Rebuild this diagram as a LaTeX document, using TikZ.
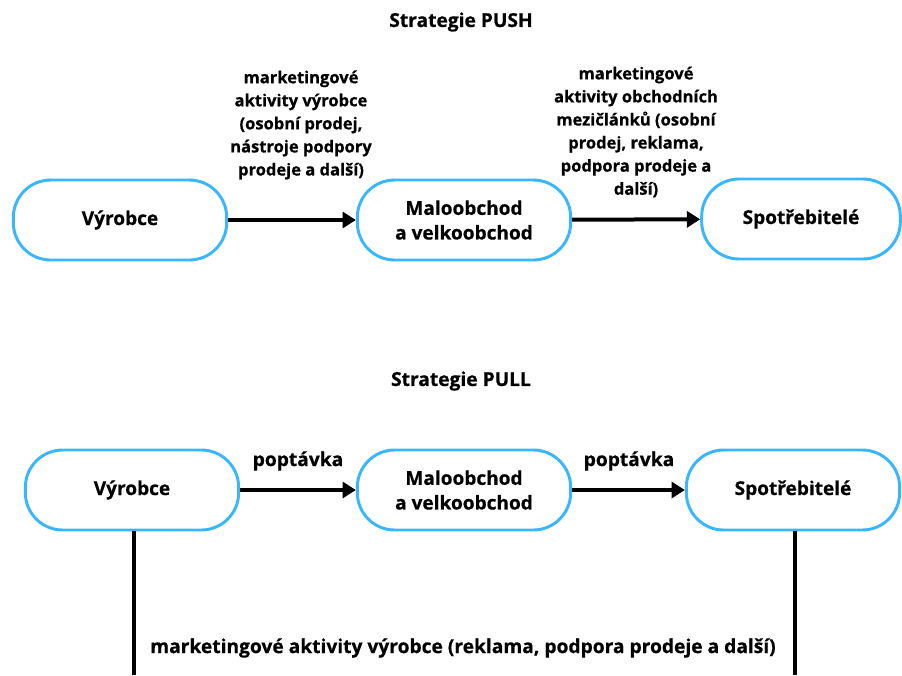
\documentclass[tikz,border=0pt]{standalone}
\usepackage{fontspec}
\setmainfont{Open Sans}[BoldFont={* Bold},BoldFeatures={FakeBold=0.6}]
\definecolor{skyline}{RGB}{56,182,255}
\usetikzlibrary{arrows.meta,positioning}
\tikzset{
  box/.style={rectangle,rounded corners=28pt,draw=skyline,line width=2.2pt,
              fill=white,minimum width=#1,minimum height=60pt,align=center,
              font=\fontsize{14.3}{18.5}\selectfont\bfseries},
  box/.default=160pt,
  arrow/.style={-{Triangle[length=10pt,width=12pt]},line width=3pt,black},
  label/.style={align=center,font=\fontsize{12.4}{17.3}\selectfont\bfseries},
  biglabel/.style={font=\fontsize{14.4}{18}\selectfont\bfseries},
  title/.style={font=\fontsize{14.4}{18}\selectfont\bfseries},
  stem/.style={line width=2.8pt,black},
}
\begin{document}
\begin{tikzpicture}[x=0.75pt,y=-0.75pt]
  \useasboundingbox (0,0) rectangle (902,675);
  % PUSH
  \node[title] (pushtitle) at (461,22) {Strategie PUSH};
  \node[box] (vyrobceA) at (120,220) {Výrobce};
  \node[box] (obchodA) at (464,220) {Maloobchod\\a velkoobchod};
  \node[box=149pt] (spotrebA) at (801,219) {Spotřebitelé};
  \draw[arrow] (vyrobceA) -- (obchodA);
  \draw[arrow] (obchodA) -- (spotrebA);
  \node[label] (pushlabA) at (301,125) {marketingové\\aktivity výrobce\\(osobní prodej,\\nástroje podpory\\prodeje a další)};
  \node[label] (pushlabB) at (636,132) {marketingové\\aktivity obchodních\\mezičlánků (osobní\\prodej, reklama,\\podpora prodeje a\\další)};
  % PULL
  \node[title] (pulltitle) at (461,381) {Strategie PULL};
  \node[box] (vyrobceB) at (132,490) {Výrobce};
  \node[box] (obchodB) at (464,490) {Maloobchod\\a velkoobchod};
  \node[box] (spotrebB) at (793,490) {Spotřebitelé};
  \draw[arrow] (vyrobceB) -- (obchodB);
  \draw[arrow] (obchodB) -- (spotrebB);
  \node[biglabel] (pulllabA) at (298,461) {poptávka};
  \node[biglabel] (pulllabB) at (629,461) {poptávka};
  \coordinate (stemA) at (134,675);
  \coordinate (stemB) at (795,675);
  \draw[stem] (vyrobceB.south -| stemA) -- (stemA);
  \draw[stem] (spotrebB.south -| stemB) -- (stemB);
  \node[biglabel] (pulllabC) at (463,648) {marketingové aktivity výrobce (reklama, podpora prodeje a další)};
\end{tikzpicture}
\end{document}
